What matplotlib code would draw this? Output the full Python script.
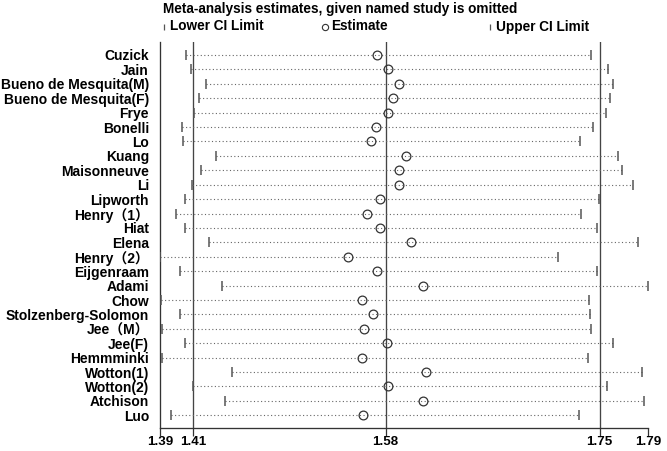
import matplotlib
matplotlib.use("Agg")
import matplotlib.pyplot as plt
from matplotlib.lines import Line2D

plt.rcParams['font.family'] = ['Liberation Sans', 'Noto Sans CJK SC', 'DejaVu Sans']

studies = ["Cuzick", "Jain", "Bueno de Mesquita(M)", "Bueno de Mesquita(F)", "Frye",
           "Bonelli", "Lo", "Kuang", "Maisonneuve", "Li", "Lipworth", "Henry（1）",
           "Hiat", "Elena", "Henry（2）", "Eijgenraam", "Adami", "Chow",
           "Stolzenberg-Solomon", "Jee（M）", "Jee(F)", "Hemmminki", "Wotton(1)",
           "Wotton(2)", "Atchison", "Luo"]

lower = [1.4139, 1.4180, 1.4305, 1.4244, 1.4203, 1.4109, 1.4114, 1.4392, 1.4264, 1.4189,
         1.4134, 1.4059, 1.4134, 1.4328, 1.3922, 1.4092, 1.4442, 1.3928, 1.4092, 1.3941,
         1.4134, 1.3937, 1.4519, 1.4195, 1.4467, 1.4012]

estimate = [1.5731, 1.5819, 1.5908, 1.5861, 1.5819, 1.5723, 1.5675, 1.5969, 1.5914, 1.5914,
            1.5756, 1.5648, 1.5750, 1.6011, 1.5484, 1.5725, 1.6108, 1.5601, 1.5695, 1.5620,
            1.5811, 1.5603, 1.6136, 1.5819, 1.6108, 1.5615]

upper = [1.7511, 1.7653, 1.7689, 1.7670, 1.7633, 1.7522, 1.7414, 1.7736, 1.7764, 1.7858,
         1.7575, 1.7423, 1.7558, 1.7903, 1.7237, 1.7558, 1.7986, 1.7492, 1.7497, 1.7511,
         1.7695, 1.7483, 1.7936, 1.7641, 1.7949, 1.7409]

overall = [1.4195, 1.5800, 1.7580]  # overall lower CI, estimate, upper CI
tick_labels = ["1.39", "1.41", "1.58", "1.75", "1.79"]

title = "Meta-analysis estimates, given named study is omitted"
legend_labels = ["Lower CI Limit", "Estimate", "Upper CI Limit"]

W, H = 667, 451
fig = plt.figure(figsize=(W / 100, H / 100), dpi=100)
ax = fig.add_axes([160 / W, (H - 428.3) / H, (648.3 - 160) / W, (428.3 - 42) / H])

n = len(studies)
ys = list(range(n))
xmin, xmax = min(lower), max(upper)

dark = "#333333"
grey = "#555555"

for v in overall:
    ax.axvline(v, color="#444444", lw=0.95, zorder=1)

for y, lo, est, up in zip(ys, lower, estimate, upper):
    ax.plot([lo, up], [y, y], color="#666666", lw=0.8, ls=(0, (1, 2.2)), zorder=2)
ax.plot(lower, ys, ls="none", marker="|", markersize=7.5, mew=1.1, color=grey, zorder=3)
ax.plot(upper, ys, ls="none", marker="|", markersize=7.5, mew=1.1, color=grey, zorder=3)
ax.plot(estimate, ys, ls="none", marker="o", markersize=6.3, mew=0.9, mec=dark,
        fillstyle="none", zorder=4)

ax.set_xlim(xmin, xmax)
ax.set_ylim(n - 1 + 0.9, -0.9)
ax.set_yticks(ys)
ax.set_yticklabels(studies, fontsize=10, fontweight="bold")
ax.tick_params(axis="y", length=0, pad=8)
ax.set_xticks([xmin] + overall + [xmax])
ax.set_xticklabels(tick_labels, fontsize=9.6, fontweight="bold")
ax.tick_params(axis="x", length=5.5, width=0.9, color=dark, pad=0.3)
for s in ["top", "right"]:
    ax.spines[s].set_visible(False)
for s in ["left", "bottom"]:
    ax.spines[s].set_color(dark)
    ax.spines[s].set_linewidth(0.95)

fig.text(163 / W, 1 - 8.5 / H, title, fontsize=9.8, fontweight="bold", va="center", ha="left")

leg_y = 1 - 26.5 / H
markers = ["|", "o", "|"]
mx = [164, 325, 490]
for m, x, lab in zip(markers, mx, legend_labels):
    if m == "o":
        fig.add_artist(Line2D([x / W], [leg_y], marker="o", markersize=4.5, mew=0.8,
                              mec=dark, fillstyle="none", transform=fig.transFigure))
    else:
        fig.add_artist(Line2D([x / W], [leg_y], marker="|", markersize=5, mew=0.9,
                              color=grey, transform=fig.transFigure))
    fig.text((x + 6) / W, leg_y, lab, fontsize=9.8, fontweight="bold", va="center", ha="left")

fig.savefig("out.png", dpi=100)
